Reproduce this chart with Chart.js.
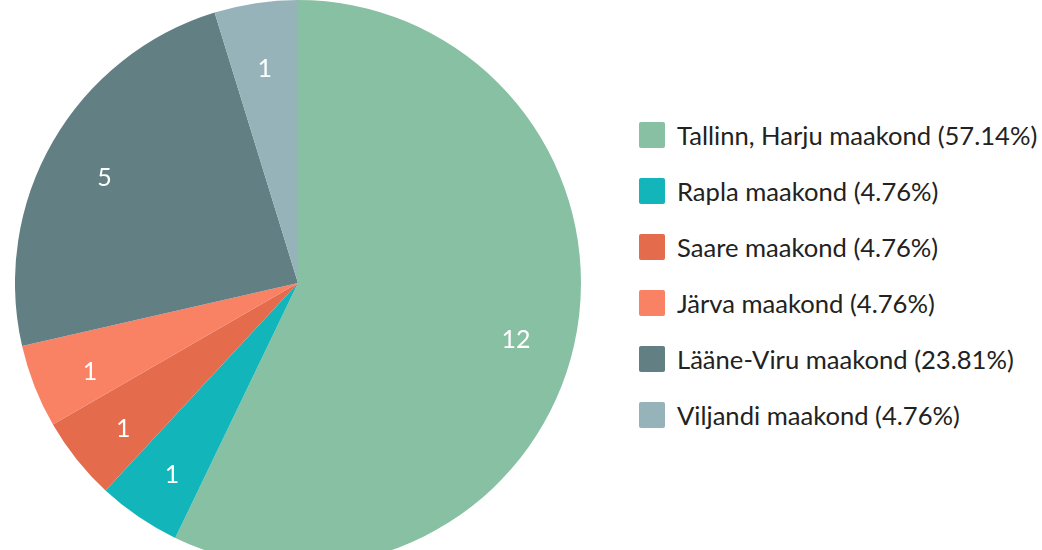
<!DOCTYPE html>
<html>
<head>
<meta charset="utf-8">
<script src="https://cdn.jsdelivr.net/npm/chart.js@4"></script>
<style>
  html, body { margin: 0; padding: 0; width: 1042px; height: 550px; overflow: hidden; background: #fff; font-family: Lato, "Noto Sans", sans-serif; }
  #pieBox { position: absolute; left: 15px; top: 0; width: 566px; height: 566px; }
  #legend { position: absolute; left: 639px; top: 122px; }
  .item { display: flex; align-items: center; height: 26px; margin-bottom: 30px; font-size: 25.6px; color: #222; white-space: nowrap; }
  .box { width: 26px; height: 26px; border-radius: 2px; margin-right: 12px; flex: none; }
</style>
</head>
<body>
<div id="pieBox"><canvas id="pie"></canvas></div>
<div id="legend"></div>
<script>
// --- Дані ---
const regions = ['Tallinn, Harju maakond', 'Rapla maakond', 'Saare maakond', 'Järva maakond', 'Lääne-Viru maakond', 'Viljandi maakond'];
const counts = [12, 1, 1, 1, 5, 1];
const colors = ['#88C0A3', '#12B5BA', '#E56B4D', '#F98265', '#627F83', '#95B3B8'];

const total = counts.reduce((a, b) => a + b, 0);

// --- Підписи значень всередині секторів ---
const sliceLabels = {
    id: 'sliceLabels',
    afterDatasetsDraw(chart) {
        const c = chart.ctx;
        const meta = chart.getDatasetMeta(0);
        c.save();
        c.fillStyle = '#fff';
        c.font = '25px Lato, "Noto Sans", sans-serif';
        c.textAlign = 'center';
        c.textBaseline = 'middle';
        meta.data.forEach((arc, i) => {
            const p = arc.getProps(['x', 'y', 'startAngle', 'endAngle', 'outerRadius']);
            const mid = (p.startAngle + p.endAngle) / 2;
            const r = p.outerRadius * 0.79;
            c.fillText(String(counts[i]), p.x + Math.cos(mid) * r, p.y + Math.sin(mid) * r + 7);
        });
        c.restore();
    }
};

new Chart(document.getElementById('pie'), {
    type: 'pie',
    data: {
        labels: regions,
        datasets: [{ data: counts, backgroundColor: colors, borderWidth: 0 }]
    },
    options: {
        responsive: true, maintainAspectRatio: false, animation: false,
        layout: { padding: 0 },
        plugins: { legend: { display: false }, tooltip: { enabled: false } }
    },
    plugins: [sliceLabels]
});

// --- Легенда ---
const legend = document.getElementById('legend');
regions.forEach((name, i) => {
    const div = document.createElement('div');
    div.className = 'item';
    const pct = (counts[i] / total * 100).toFixed(2);
    div.innerHTML = `<span class="box" style="background:${colors[i]}"></span><span>${name} (${pct}%)</span>`;
    legend.appendChild(div);
});
</script>
</body>
</html>
